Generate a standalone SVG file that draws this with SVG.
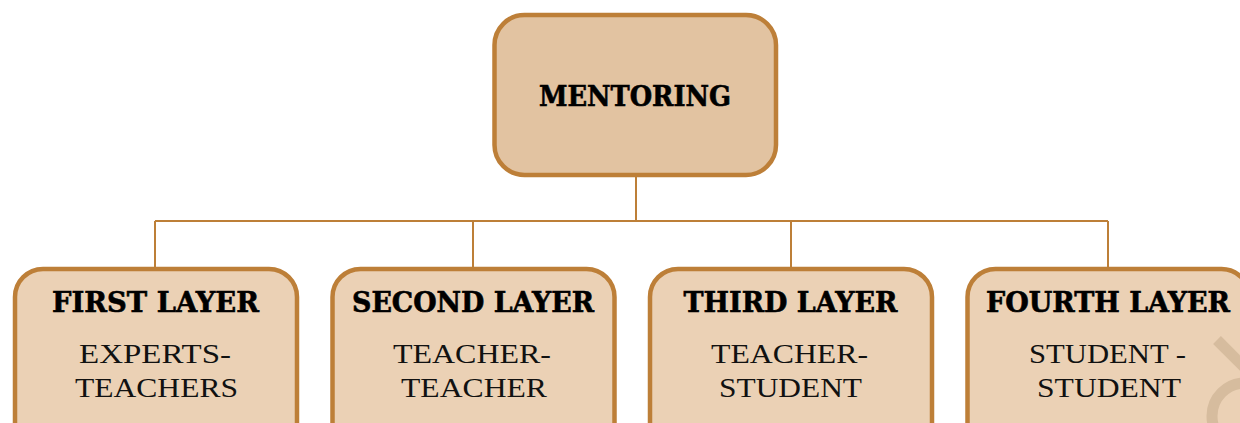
<svg xmlns="http://www.w3.org/2000/svg" width="1240" height="423" viewBox="0 0 1240 423">
<style>
.box{stroke:#BD7F38;stroke-width:4.5}
.top{fill:#E2C3A1}
.sub{fill:#EBD1B5}
.con{stroke:#BD7F38;stroke-width:2;fill:none}
.h{font-family:"DejaVu Serif","Liberation Serif",serif;font-weight:bold;fill:#000;stroke:#000;stroke-width:0.6;text-anchor:middle}
.t{font-family:"Liberation Serif","DejaVu Serif",serif;fill:#111;text-anchor:middle;font-size:27.5px}
</style>
<rect x="0" y="0" width="1240" height="423" fill="#fff"/>
<g id="connectors">
<path class="con" d="M636 177V221M155 221H1108M155 221V268M473 221V268M791 221V268M1108 221V268"/>
</g>
<g id="mentoring">
<rect class="box top" x="494.5" y="15" width="281.5" height="160" rx="30"/>
<text class="h" x="635" y="106" font-size="28" textLength="192" lengthAdjust="spacingAndGlyphs">MENTORING</text>
</g>
<g id="first">
<rect class="box sub" x="15" y="269" width="282" height="200" rx="28"/>
<text class="h" x="155.5" y="312" font-size="27" textLength="207" lengthAdjust="spacingAndGlyphs">FIRST LAYER</text>
<text class="t" x="155" y="363" textLength="152" lengthAdjust="spacingAndGlyphs">EXPERTS-</text>
<text class="t" x="156.5" y="397" textLength="163" lengthAdjust="spacingAndGlyphs">TEACHERS</text>
</g>
<g id="second">
<rect class="box sub" x="332.5" y="269" width="282" height="200" rx="28"/>
<text class="h" x="473" y="312" font-size="27" textLength="242" lengthAdjust="spacingAndGlyphs">SECOND LAYER</text>
<text class="t" x="472" y="363" textLength="158" lengthAdjust="spacingAndGlyphs">TEACHER-</text>
<text class="t" x="474" y="397" textLength="146" lengthAdjust="spacingAndGlyphs">TEACHER</text>
</g>
<g id="third">
<rect class="box sub" x="650" y="269" width="282" height="200" rx="28"/>
<text class="h" x="790.5" y="312" font-size="27" textLength="214" lengthAdjust="spacingAndGlyphs">THIRD LAYER</text>
<text class="t" x="789.5" y="363" textLength="157" lengthAdjust="spacingAndGlyphs">TEACHER-</text>
<text class="t" x="790.5" y="397" textLength="143" lengthAdjust="spacingAndGlyphs">STUDENT</text>
</g>
<g id="fourth">
<rect class="box sub" x="967.5" y="269" width="282" height="200" rx="28"/>
<text class="h" x="1108" y="312" font-size="27" textLength="244" lengthAdjust="spacingAndGlyphs">FOURTH LAYER</text>
<text class="t" x="1107.5" y="363" textLength="157" lengthAdjust="spacingAndGlyphs">STUDENT -</text>
<text class="t" x="1109" y="397" textLength="144" lengthAdjust="spacingAndGlyphs">STUDENT</text>
<g fill="none" stroke="#D6BC9E" stroke-width="11">
<path d="M1217 340L1245 368"/>
<circle cx="1245" cy="416" r="33"/>
</g>
</g>
</svg>
